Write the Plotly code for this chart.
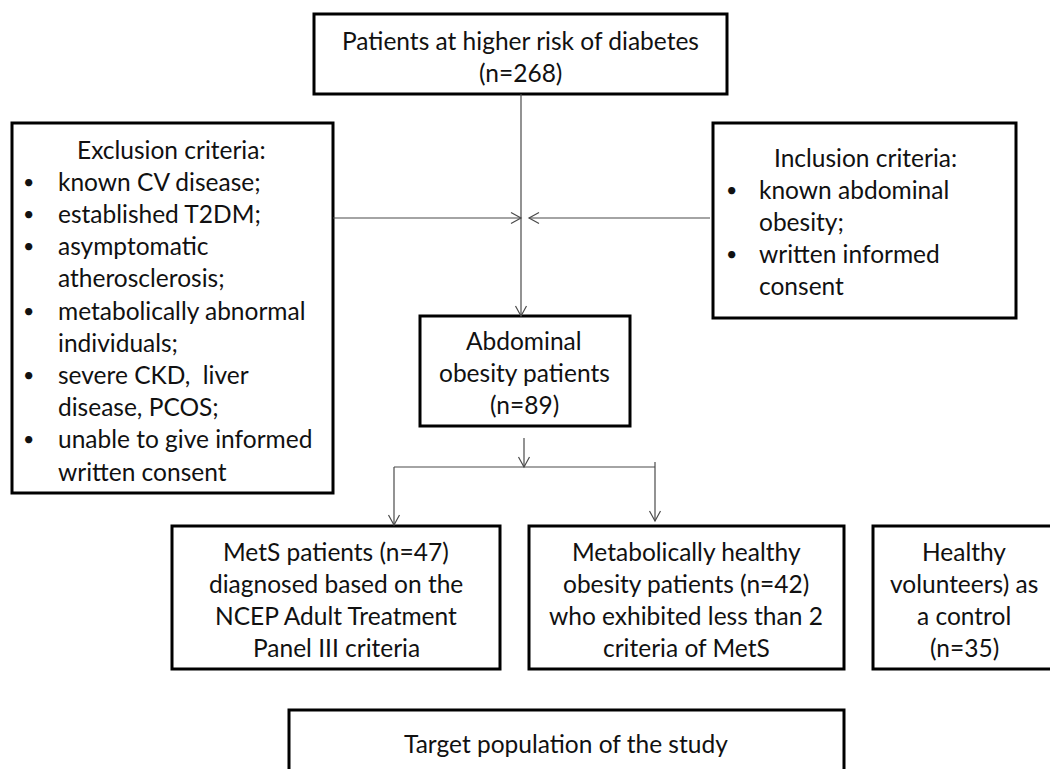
import plotly.graph_objects as go

# ---- text content ----
top_lines = ["Patients at higher risk of diabetes", "(n=268)"]
excl_title = "Exclusion criteria:"
excl_items = [
    ["known CV disease;"],
    ["established T2DM;"],
    ["asymptomatic", "atherosclerosis;"],
    ["metabolically abnormal", "individuals;"],
    ["severe CKD,\u00a0 liver", "disease, PCOS;"],
    ["unable to give informed", "written consent"],
]
incl_title = "Inclusion criteria:"
incl_items = [
    ["known abdominal", "obesity;"],
    ["written informed", "consent"],
]
center_lines = ["Abdominal", "obesity patients", "(n=89)"]
mets_lines = ["MetS patients (n=47)", "diagnosed based on the",
              "NCEP Adult Treatment", "Panel III criteria"]
mho_lines = ["Metabolically healthy", "obesity patients (n=42)",
             "who exhibited less than 2", "criteria of MetS"]
healthy_lines = ["Healthy", "volunteers) as", "a control", "(n=35)"]
target_lines = ["Target population of the study"]

# ---- layout geometry (pixels, y downward) ----
FONT = "Lato, Carlito, 'Open Sans', sans-serif"
FS = 24.5
LS = 32.2
TXT = "#111111"

boxes = {
    "top": (314, 14, 727, 94),
    "excl": (12, 123, 333, 493),
    "incl": (713, 123, 1016, 318),
    "center": (420, 316, 630, 426),
    "mets": (172, 526, 500, 669),
    "mho": (529, 526, 844, 669),
    "healthy": (873, 526, 1065, 669),
    "target": (289, 710, 844, 790),
}

shapes = []
annotations = []

for (x0, y0, x1, y1) in boxes.values():
    shapes.append(dict(type="rect", xref="x", yref="y", x0=x0, y0=y0, x1=x1, y1=y1,
                       line=dict(color="#000000", width=3), fillcolor="rgba(0,0,0,0)"))


def add_text(x, y, text, anchor="center", size=FS):
    annotations.append(dict(x=x, y=y, xref="x", yref="y", text=text, showarrow=False,
                            xanchor=anchor, yanchor="middle",
                            font=dict(family=FONT, size=size, color=TXT)))


def centered_block(lines, cx, y_first):
    for i, t in enumerate(lines):
        add_text(cx, y_first + i * LS, t)


def bullet_block(title, items, title_cx, y_first, bx, tx):
    add_text(title_cx, y_first, title)
    row = 1
    for item in items:
        add_text(bx, y_first + row * LS, "\u2022", size=FS * 0.8)
        for t in item:
            add_text(tx, y_first + row * LS, t, anchor="left")
            row += 1


centered_block(top_lines, 520, 40)
bullet_block(excl_title, excl_items, 171, 149, 28, 56)
bullet_block(incl_title, incl_items, 865, 157, 731, 757)
centered_block(center_lines, 524, 340)
centered_block(mets_lines, 336, 551)
centered_block(mho_lines, 686, 551)
centered_block(healthy_lines, 964, 551)
centered_block(target_lines, 566, 743)

# ---- connectors ----
LC = "#4a4a4a"
LW = 1.2


def seg(xa, ya, xb, yb):
    shapes.append(dict(type="line", xref="x", yref="y", x0=xa, y0=ya, x1=xb, y1=yb,
                       line=dict(color=LC, width=LW)))


def head(x, y, direction, L=10, H=5.5):
    if direction == "down":
        p = f"M {x-H},{y-L} L {x},{y} L {x+H},{y-L}"
    elif direction == "right":
        p = f"M {x-L},{y-H} L {x},{y} L {x-L},{y+H}"
    else:
        p = f"M {x+L},{y-H} L {x},{y} L {x+L},{y+H}"
    shapes.append(dict(type="path", xref="x", yref="y", path=p,
                       line=dict(color=LC, width=LW)))


seg(521, 94, 521, 316); head(521, 316, "down")
seg(333, 218, 521, 218); head(521, 218, "right")
seg(710, 218, 529, 218); head(529, 218, "left")
seg(524, 438, 524, 467); head(524, 467, "down")
seg(394, 467, 655, 467)
seg(394, 467, 394, 525); head(394, 525, "down")
seg(655, 462, 655, 521); head(655, 521, "down")

fig = go.Figure()
fig.update_layout(
    width=1050, height=769,
    margin=dict(l=0, r=0, t=0, b=0),
    paper_bgcolor="white", plot_bgcolor="white",
    xaxis=dict(range=[0, 1050], visible=False, fixedrange=True),
    yaxis=dict(range=[769, 0], visible=False, fixedrange=True),
    shapes=shapes, annotations=annotations, showlegend=False,
)
fig.write_html("out.html", config={"displayModeBar": False},
               post_script="document.body.style.margin='0px';document.body.style.overflow='hidden';")
